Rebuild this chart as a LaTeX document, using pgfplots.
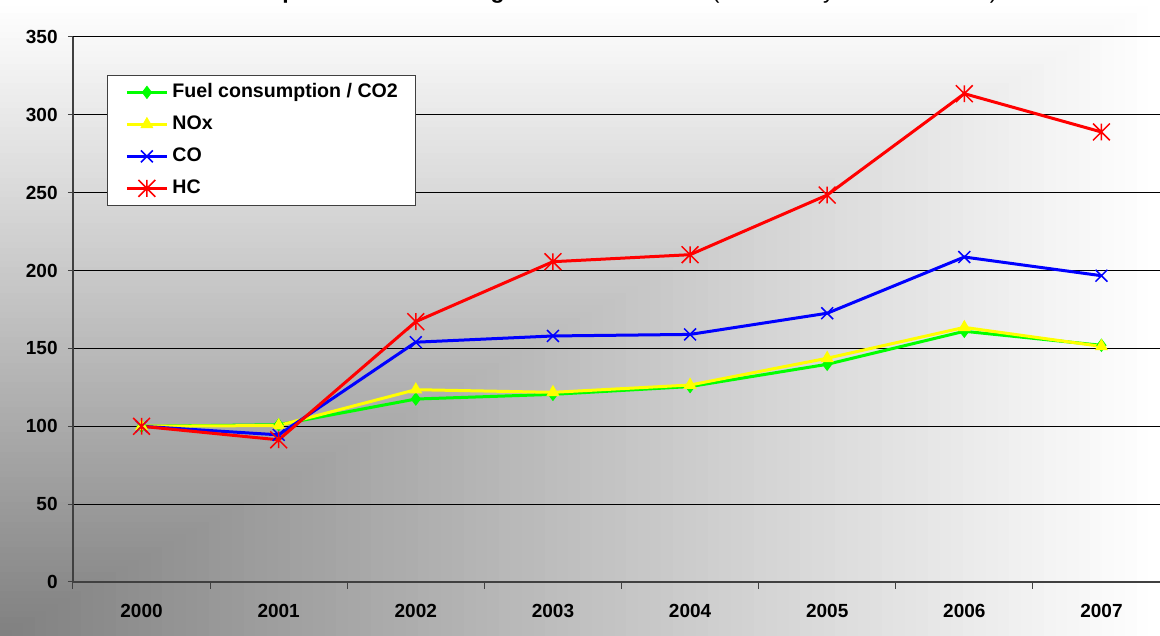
\documentclass[border=0pt]{standalone}
\usepackage{fontspec}
\setmainfont{Liberation Sans}
\usepackage{pgfplots}
\pgfplotsset{compat=1.18}
\definecolor{axgray}{HTML}{404040}
\definecolor{fuelgreen}{HTML}{00FF00}
\definecolor{noxyellow}{HTML}{FFFF00}
\definecolor{coblue}{HTML}{0000FF}
\definecolor{hcred}{HTML}{FF0000}
\pgfdeclareplotmark{xstar}{%
  \pgfpathmoveto{\pgfqpoint{-\pgfplotmarksize}{-\pgfplotmarksize}}%
  \pgfpathlineto{\pgfqpoint{\pgfplotmarksize}{\pgfplotmarksize}}%
  \pgfpathmoveto{\pgfqpoint{-\pgfplotmarksize}{\pgfplotmarksize}}%
  \pgfpathlineto{\pgfqpoint{\pgfplotmarksize}{-\pgfplotmarksize}}%
  \pgfpathmoveto{\pgfqpoint{0pt}{-\pgfplotmarksize}}%
  \pgfpathlineto{\pgfqpoint{0pt}{\pgfplotmarksize}}%
  \pgfusepathqstroke}
\begin{document}
\begin{tikzpicture}
\begin{scope}
\clip (-36.5pt,-27pt) rectangle (543.5pt,291pt);
\foreach \i in {0,...,99}{
  \pgfmathsetmacro\f{1-\i/100}
  \pgfmathsetmacro\p{50*(1-\f)}
  \fill[black!\p] (-36.5pt,-27pt) rectangle ++({\f*580pt},{\f*318pt});
}
\end{scope}
\begin{axis}[
  scale only axis, width=548.5pt, height=272.5pt,
  at={(0,0)}, anchor=south west,
  xmin=-0.5, xmax=7.5, ymin=0, ymax=350,
  axis x line*=bottom, axis y line*=left,
  axis line style={axgray, line width=0.75pt},
  xtick={0,...,7},
  xticklabels={2000,2001,2002,2003,2004,2005,2006,2007},
  minor xtick={-0.5,0.5,...,7.5},
  major x tick style={draw=none},
  minor x tick style={axgray, line width=0.5pt},
  ytick={0,50,...,350},
  y tick style={axgray, line width=0.5pt},
  tick align=outside,
  major tick length=2.5pt, minor tick length=3.5pt,
  ymajorgrids, major grid style={black, line width=0.5pt},
  /pgf/number format/assume math mode=true,
  tick label style={font=\fontsize{9.5}{11}\selectfont\bfseries, inner sep=0pt},
  yticklabel style={anchor=east, xshift=-5pt},
  xticklabel style={anchor=north, yshift=-8.5pt},
  every axis title/.style={at={(axis description cs:0.8432,1)}, anchor=base east, yshift=19.2pt, inner sep=0pt},
  title={\fontsize{11.5}{13}\selectfont\bfseries Development of aircraft flights and emissions \mdseries(reference year 2000 = 100)},
  legend style={at={(axis description cs:0.031,0.9303)}, anchor=north west,
    draw=axgray, fill=white, inner xsep=9pt, inner ysep=3.75pt, row sep=6.5pt,
    font=\fontsize{9.8}{11}\selectfont\bfseries,
    nodes={inner sep=0pt, text height=7.5pt, text depth=2pt},
    /tikz/every odd column/.append style={column sep=2pt}},
  legend cell align=left,
  legend image code/.code={\draw[mark repeat=2,mark phase=2] plot coordinates {(0pt,0pt) (10pt,0pt) (20pt,0pt)};},
]
\addplot[color=fuelgreen, line width=1.5pt, mark=diamond*, mark size=3pt, mark options={solid, line width=0.5pt}]
  coordinates {(0,100) (1,101) (2,117.5) (3,120.5) (4,125.5) (5,139.8) (6,161) (7,152)};
\addlegendentry{Fuel consumption / CO2}
\addplot[color=noxyellow, line width=1.5pt, mark=triangle*, mark size=3.3pt, mark options={solid, line width=0.5pt}]
  coordinates {(0,100) (1,100.5) (2,123.5) (3,121.8) (4,126.5) (5,143.7) (6,163.5) (7,151.3)};
\addlegendentry{NOx}
\addplot[color=coblue, line width=1.5pt, mark=x, mark size=4.2pt, mark options={solid, line width=0.75pt}]
  coordinates {(0,100) (1,94.5) (2,154) (3,158) (4,159) (5,172.6) (6,208.7) (7,196.7)};
\addlegendentry{CO}
\addplot[color=hcred, line width=1.5pt, mark=xstar, mark size=4.2pt, mark options={solid, line width=0.75pt}]
  coordinates {(0,100) (1,91.3) (2,167.2) (3,205.7) (4,210.2) (5,248.5) (6,313.6) (7,289)};
\addlegendentry{HC}
\end{axis}
\pgfresetboundingbox
\path[use as bounding box] (-36.5pt,-27pt) rectangle (543.5pt,291pt);
\end{tikzpicture}
\end{document}
